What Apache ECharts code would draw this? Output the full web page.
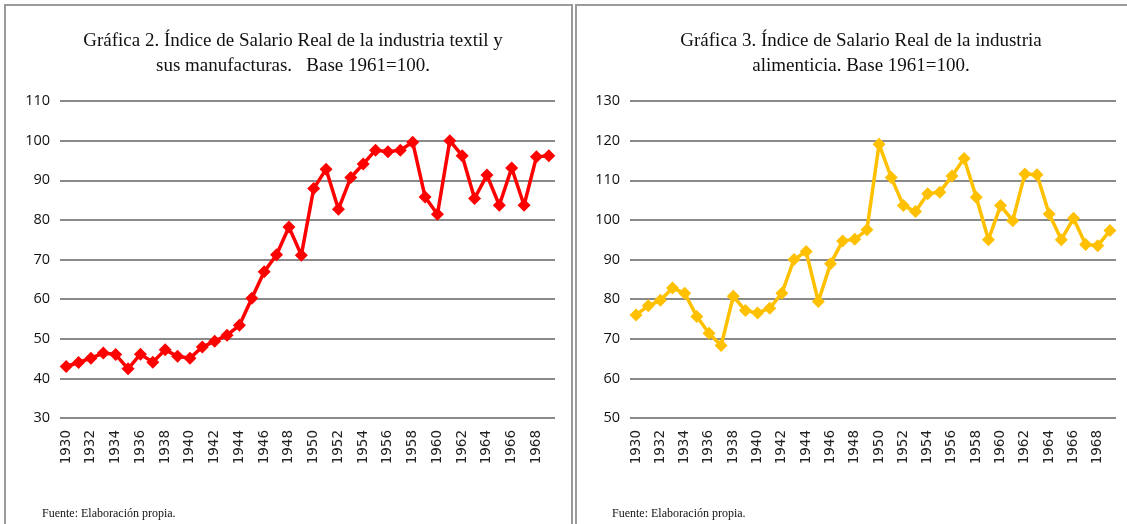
<!DOCTYPE html>
<html><head><meta charset="utf-8">
<script src="https://cdn.jsdelivr.net/npm/echarts@6/dist/echarts.min.js"></script>
<style>html,body{margin:0;padding:0;background:#fff}#c{width:1127px;height:524px}</style>
</head><body><div id="c"></div>
<script>
const years = [];
for (let y = 1930; y <= 1969; y++) years.push(String(y));
const textil = [43.0,44.0,45.1,46.4,46.0,42.4,46.1,44.1,47.2,45.6,45.1,47.9,49.4,50.9,53.4,60.2,66.9,71.2,78.2,71.1,87.9,92.8,82.7,90.7,94.1,97.6,97.2,97.6,99.6,85.8,81.4,100.0,96.2,85.4,91.3,83.7,93.1,83.7,95.9,96.2];
const alimenticia = [76.0,78.3,79.7,82.8,81.5,75.6,71.4,68.3,80.7,77.1,76.5,77.7,81.5,90.0,92.0,79.4,88.9,94.7,95.1,97.5,119.1,110.7,103.6,102.1,106.6,107.0,111.1,115.5,105.7,95.0,103.6,99.8,111.6,111.4,101.5,95.0,100.4,93.8,93.5,97.3];
const title1 = 'Gráfica 2. Índice de Salario Real de la industria textil y\nsus manufacturas.   Base 1961=100.';
const title2 = 'Gráfica 3. Índice de Salario Real de la industria\nalimenticia. Base 1961=100.';
const source = 'Fuente: Elaboración propia.';

const chart = echarts.init(document.getElementById('c'));
const serif = '"Liberation Serif", "DejaVu Serif", serif';
function xAx(i){return {type:'category',gridIndex:i,data:years,boundaryGap:true,
  axisLine:{show:false},axisTick:{show:false},
  axisLabel:{interval:1,rotate:90,fontFamily:'"DejaVu Sans"',fontSize:13.5,color:'#222',margin:12}};}
function yAx(i,min,max){return {type:'value',gridIndex:i,min:min,max:max,interval:10,
  axisLine:{show:false},axisTick:{show:false},
  axisLabel:{fontFamily:'"Open Sans"',fontSize:14.5,color:'#111',margin:10},
  splitLine:{lineStyle:{color:'#8a8a8a',width:2}}};}
function ser(i,data,color){return {type:'line',xAxisIndex:i,yAxisIndex:i,data:data,
  showAllSymbol:true,symbol:'diamond',symbolSize:13,lineStyle:{color:color,width:3.5},itemStyle:{color:color},animation:false};}
chart.setOption({
  animation:false,
  title:[
    {text:title1,left:288,top:24,textAlign:'center',textStyle:{fontFamily:serif,fontWeight:'normal',fontSize:19,color:'#111',lineHeight:25}},
    {text:title2,left:856,top:24,textAlign:'center',textStyle:{fontFamily:serif,fontWeight:'normal',fontSize:19,color:'#111',lineHeight:25}}
  ],
  grid:[
    {left:60,top:101,width:495,height:317},
    {left:630,top:101,width:486,height:317}
  ],
  xAxis:[xAx(0),xAx(1)],
  yAxis:[yAx(0,30,110),yAx(1,50,130)],
  series:[ser(0,textil,'#FF0000'),ser(1,alimenticia,'#FFC000')],
  graphic:[
    {type:'rect',shape:{x:5,y:5,width:567,height:530},style:{fill:'none',stroke:'#9a9a9a',lineWidth:2}},
    {type:'rect',shape:{x:576,y:5,width:560,height:530},style:{fill:'none',stroke:'#9a9a9a',lineWidth:2}},
    {type:'text',left:42,top:508,style:{text:source,font:'12px '+serif,fill:'#111'}},
    {type:'text',left:612,top:508,style:{text:source,font:'12px '+serif,fill:'#111'}}
  ]
});
</script></body></html>
